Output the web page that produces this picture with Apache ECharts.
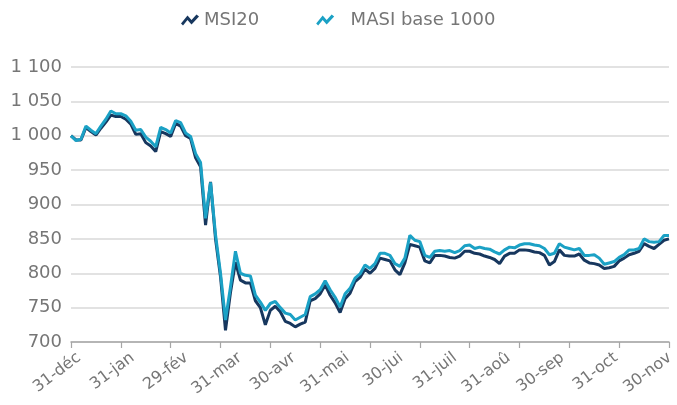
<!DOCTYPE html>
<html>
<head>
<meta charset="utf-8">
<style>
  html, body { margin: 0; padding: 0; background: #fff; }
  #chart { width: 677px; height: 405px; }
</style>
<script src="https://cdn.jsdelivr.net/npm/echarts@6/dist/echarts.min.js"></script>
</head>
<body>
<div id="chart"></div>
<script>
// month-end labels shown under the axis
const monthLabels = ["31-déc", "31-jan", "29-fév", "31-mar", "30-avr", "31-mai",
  "30-jui", "31-juil", "31-aoû", "30-sep", "31-oct", "30-nov"];
const pointsPerMonth = 10;

// readings, 10 per month, from 31-déc to 30-nov
const msi20 = [
  1000, 994, 994, 1012, 1006, 1001, 1011, 1020, 1030, 1028,
  1028, 1024, 1017, 1002, 1003, 990, 985, 977, 1006, 1003,
  999, 1018, 1014, 1000, 996, 968, 955, 870, 933, 850,
  795, 717, 772, 816, 790, 786, 786, 760, 750, 725,
  746, 752, 744, 730, 727, 722, 726, 729, 760, 763,
  770, 783, 768, 757, 743, 763, 771, 788, 794, 806,
  800, 807, 822, 820, 818, 805, 798, 815, 842, 840,
  838, 818, 815, 826, 826, 825, 823, 822, 825, 832,
  832, 829, 828, 825, 823, 820, 814, 825, 829, 829,
  834, 834, 833, 831, 830, 826, 812, 817, 834, 826,
  825, 825, 828, 819, 815, 814, 812, 807, 808, 810,
  818, 822, 827, 829, 832, 843, 839, 836, 842, 848,
  850
];
const masi = [
  1000, 993, 995, 1014, 1008, 1003, 1014, 1024, 1036, 1032,
  1032, 1029, 1021, 1008, 1009, 998, 992, 984, 1012, 1009,
  1004, 1022, 1019, 1004, 999, 974, 961, 880, 932, 856,
  800, 732, 780, 832, 800, 797, 796, 768, 758, 746,
  756, 759, 750, 742, 740, 732, 736, 740, 766, 770,
  776, 789, 776, 765, 751, 770, 778, 793, 799, 812,
  807, 814, 829, 829, 826, 814, 810, 822, 855, 848,
  846, 826, 823, 832, 833, 832, 833, 830, 833, 840,
  841, 836, 838, 836, 835, 831, 828, 834, 838, 837,
  841, 843, 843, 841, 840, 836, 827, 829, 843, 838,
  836, 834, 836, 826, 826, 827, 822, 813, 815, 817,
  823, 827, 834, 834, 836, 850, 846, 845, 846, 855,
  855
];

const yMin = 700, yMax = 1100, yStep = 50;

const categories = msi20.map((_, i) => i);
const textColor = "#767676";
const font = "DejaVu Sans";
const zigzag = "path://M0,9 L6.5,1 L10.5,5.5 L15.5,0 L18,2 L10.5,10 L6.5,5.5 L2,11 Z";

const chart = echarts.init(document.getElementById("chart"));
chart.setOption({
  animation: false,
  textStyle: { fontFamily: font },
  color: ["#17375e", "#1ba1c5"],
  legend: {
    top: 6,
    left: 176,
    icon: zigzag,
    itemWidth: 18,
    itemHeight: 11,
    itemGap: 57,
    itemStyle: { borderWidth: 0 },
    textStyle: { color: textColor, fontSize: 18, fontFamily: font },
    formatter(name) {
      return name === "MASI base 1000" ? "  " + name : name;
    },
    data: ["MSI20", "MASI base 1000"],
  },
  grid: [
    { left: 71, right: 8, top: 67, bottom: 63 },
    { left: 79, right: 4, top: 67, bottom: 63 },
  ],
  xAxis: [
    {
      type: "category",
      data: categories,
      boundaryGap: false,
      axisLine: { lineStyle: { color: "#a6a6a6", width: 1.5 } },
      axisTick: {
        length: 6,
        interval: (i) => i % pointsPerMonth === 0,
        lineStyle: { color: "#a6a6a6", width: 1.2 },
      },
      axisLabel: { show: false },
    },
    {
      gridIndex: 1,
      type: "category",
      data: monthLabels,
      boundaryGap: false,
      axisLine: { show: false },
      axisTick: { show: false },
      axisLabel: {
        interval: 0,
        rotate: 37,
        margin: 14,
        fontSize: 16,
        color: textColor,
        fontFamily: font,
      },
    },
  ],
  yAxis: [
    {
      type: "value",
      min: yMin,
      max: yMax,
      interval: yStep,
      axisLine: { show: false },
      axisTick: { show: false },
      splitLine: { lineStyle: { color: "#d9d9d9", width: 1.5 } },
      axisLabel: {
        margin: 9,
        fontSize: 18,
        color: textColor,
        fontFamily: font,
        formatter(v) {
          return v >= 1000 ? "1 " + String(v - 1000).padStart(3, "0") : String(v);
        },
      },
    },
    { gridIndex: 1, type: "value", show: false, min: 0, max: 1 },
  ],
  series: [
    {
      name: "MSI20",
      type: "line",
      data: msi20,
      showSymbol: false,
      lineStyle: { width: 3 },
    },
    {
      name: "MASI base 1000",
      type: "line",
      data: masi,
      showSymbol: false,
      lineStyle: { width: 3 },
    },
  ],
});
</script>
</body>
</html>
